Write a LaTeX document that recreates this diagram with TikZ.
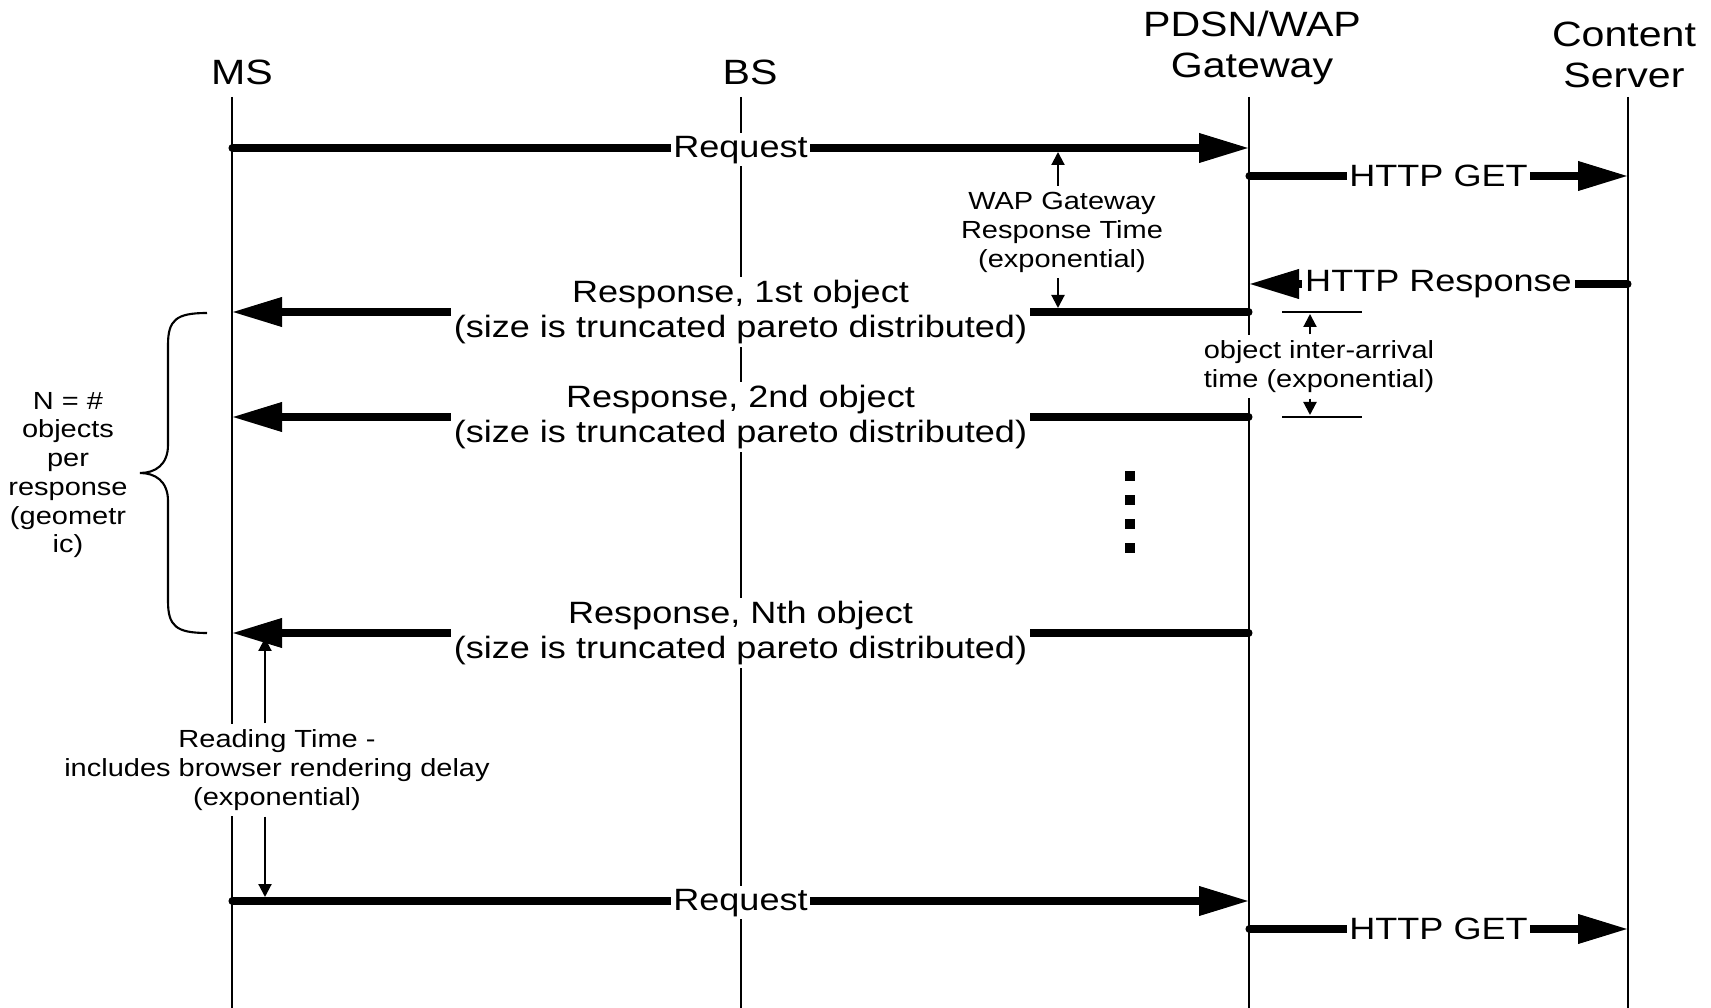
\documentclass[tikz,border=0pt]{standalone}
\usepackage{fontspec}
\setmainfont{Liberation Sans}[FakeStretch=1.17]
\usetikzlibrary{arrows.meta}
\usetikzlibrary{positioning}

\tikzset{
    lifeline/.style={line width=0.6pt},
    msg/.style={line width=2pt, line cap=round, -{Triangle[length=5mm, width=2.8mm]}},
    msglabel/.style={fill=white, inner sep=0.8pt, align=center, font=\fontsize{8.77}{10.2}\selectfont},
    timing/.style={line width=0.6pt, -{Triangle[length=1.3mm, width=1.3mm]}},
    note/.style={fill=white, inner sep=1.5pt, align=center, font=\fontsize{7.05}{8.25}\selectfont},
    actor/.style={align=center, font=\fontsize{10}{11.7}\selectfont}
}

\begin{document}
\begin{tikzpicture}
    \useasboundingbox (0,0) rectangle (17.11,-10.08);

    % entities
    \node[actor] (ms) at (2.42,-0.72) {MS};
    \node[actor] (bs) at (7.50,-0.72) {BS};
    \node[actor] (gw) at (12.52,-0.48) {PDSN/WAP\\Gateway};
    \node[actor] (cs) at (16.24,-0.55) {Content\\Server};

    % lifelines
    \coordinate (ms-top) at (2.32,-0.97);
    \coordinate (bs-top) at (7.41,-0.97);
    \coordinate (gw-top) at (12.49,-0.97);
    \coordinate (cs-top) at (16.28,-0.97);
    \coordinate (bottom) at (0,-10.08);
    \foreach \n in {ms,bs,gw,cs}
        \draw[lifeline] (\n-top) -- (\n-top |- bottom);

    % message rows
    \coordinate (req1) at (0,-1.48);
    \coordinate (get1) at (0,-1.76);
    \coordinate (resp) at (0,-2.84);
    \coordinate (obj1) at (0,-3.12);
    \coordinate (obj2) at (0,-4.17);
    \coordinate (objn) at (0,-6.33);
    \coordinate (req2) at (0,-9.01);
    \coordinate (get2) at (0,-9.29);

    % first page request
    \draw[msg] (ms-top |- req1) -- (gw-top |- req1)
        node[msglabel, midway, yshift=-0.5pt] (req1-lbl) {Request};
    \draw[msg] (gw-top |- get1) -- (cs-top |- get1)
        node[msglabel, midway] (get1-lbl) {HTTP GET};
    \draw[msg] (cs-top |- resp) -- (gw-top |- resp)
        node[msglabel, midway] (resp-lbl) {HTTP Response};

    % objects
    \draw[msg] (gw-top |- obj1) -- (ms-top |- obj1)
        node[msglabel, midway] (obj1-lbl) {Response, 1st object\\(size is truncated pareto distributed)};
    \draw[msg] (gw-top |- obj2) -- (ms-top |- obj2)
        node[msglabel, midway] (obj2-lbl) {Response, 2nd object\\(size is truncated pareto distributed)};
    \draw[msg] (gw-top |- objn) -- (ms-top |- objn)
        node[msglabel, midway] (objn-lbl) {Response, Nth object\\(size is truncated pareto distributed)};

    \foreach \y in {4.76,5.00,5.24,5.48}
        \fill ({11.25},{-\y+0.05}) rectangle ++(0.10,-0.10);

    % next page request
    \draw[msg] (ms-top |- req2) -- (gw-top |- req2)
        node[msglabel, midway, yshift=-0.5pt] (req2-lbl) {Request};
    \draw[msg] (gw-top |- get2) -- (cs-top |- get2)
        node[msglabel, midway] (get2-lbl) {HTTP GET};

    % gateway response time
    \node[note] (wapnote) at (10.62,-2.32) {WAP Gateway\\Response Time\\(exponential)};
    \coordinate (wap-up) at (10.58,-1.52);
    \coordinate (wap-dn) at (10.58,-3.08);
    \draw[timing] (wapnote.north -| wap-up) -- (wap-up);
    \draw[timing] (wapnote.south -| wap-dn) -- (wap-dn);

    % inter-arrival time
    \draw[lifeline] (12.82,-3.12) -- (13.62,-3.12);
    \draw[lifeline] (12.82,-4.17) -- (13.62,-4.17);
    \node[note] (iatnote) at (13.19,-3.665) {object inter-arrival\\time (exponential)};
    \coordinate (iat-up) at (13.10,-3.14);
    \coordinate (iat-dn) at (13.10,-4.15);
    \draw[timing] (iatnote.north -| iat-up) -- (iat-up);
    \draw[timing] (iatnote.south -| iat-dn) -- (iat-dn);

    % number of objects
    \draw[lifeline] (2.07,-3.13) .. controls (1.76,-3.13) and (1.68,-3.20) .. (1.68,-3.45)
        -- (1.68,-4.45) .. controls (1.68,-4.65) and (1.55,-4.73) .. (1.40,-4.73)
        .. controls (1.55,-4.73) and (1.68,-4.81) .. (1.68,-5.01)
        -- (1.68,-6.01) .. controls (1.68,-6.26) and (1.76,-6.33) .. (2.07,-6.33);
    \node[note, font=\fontsize{7.05}{8.17}\selectfont] (nnote) at (0.68,-4.75)
        {N = \#\\objects\\per\\response\\(geometr\\ic)};

    % reading time
    \node[note] (readnote) at (2.77,-7.70) {Reading Time -\\includes browser rendering delay\\(exponential)};
    \coordinate (read-up) at (2.65,-6.38);
    \coordinate (read-dn) at (2.65,-8.97);
    \draw[timing] (readnote.north -| read-up) -- (read-up);
    \draw[timing] (readnote.south -| read-dn) -- (read-dn);

\end{tikzpicture}
\end{document}
